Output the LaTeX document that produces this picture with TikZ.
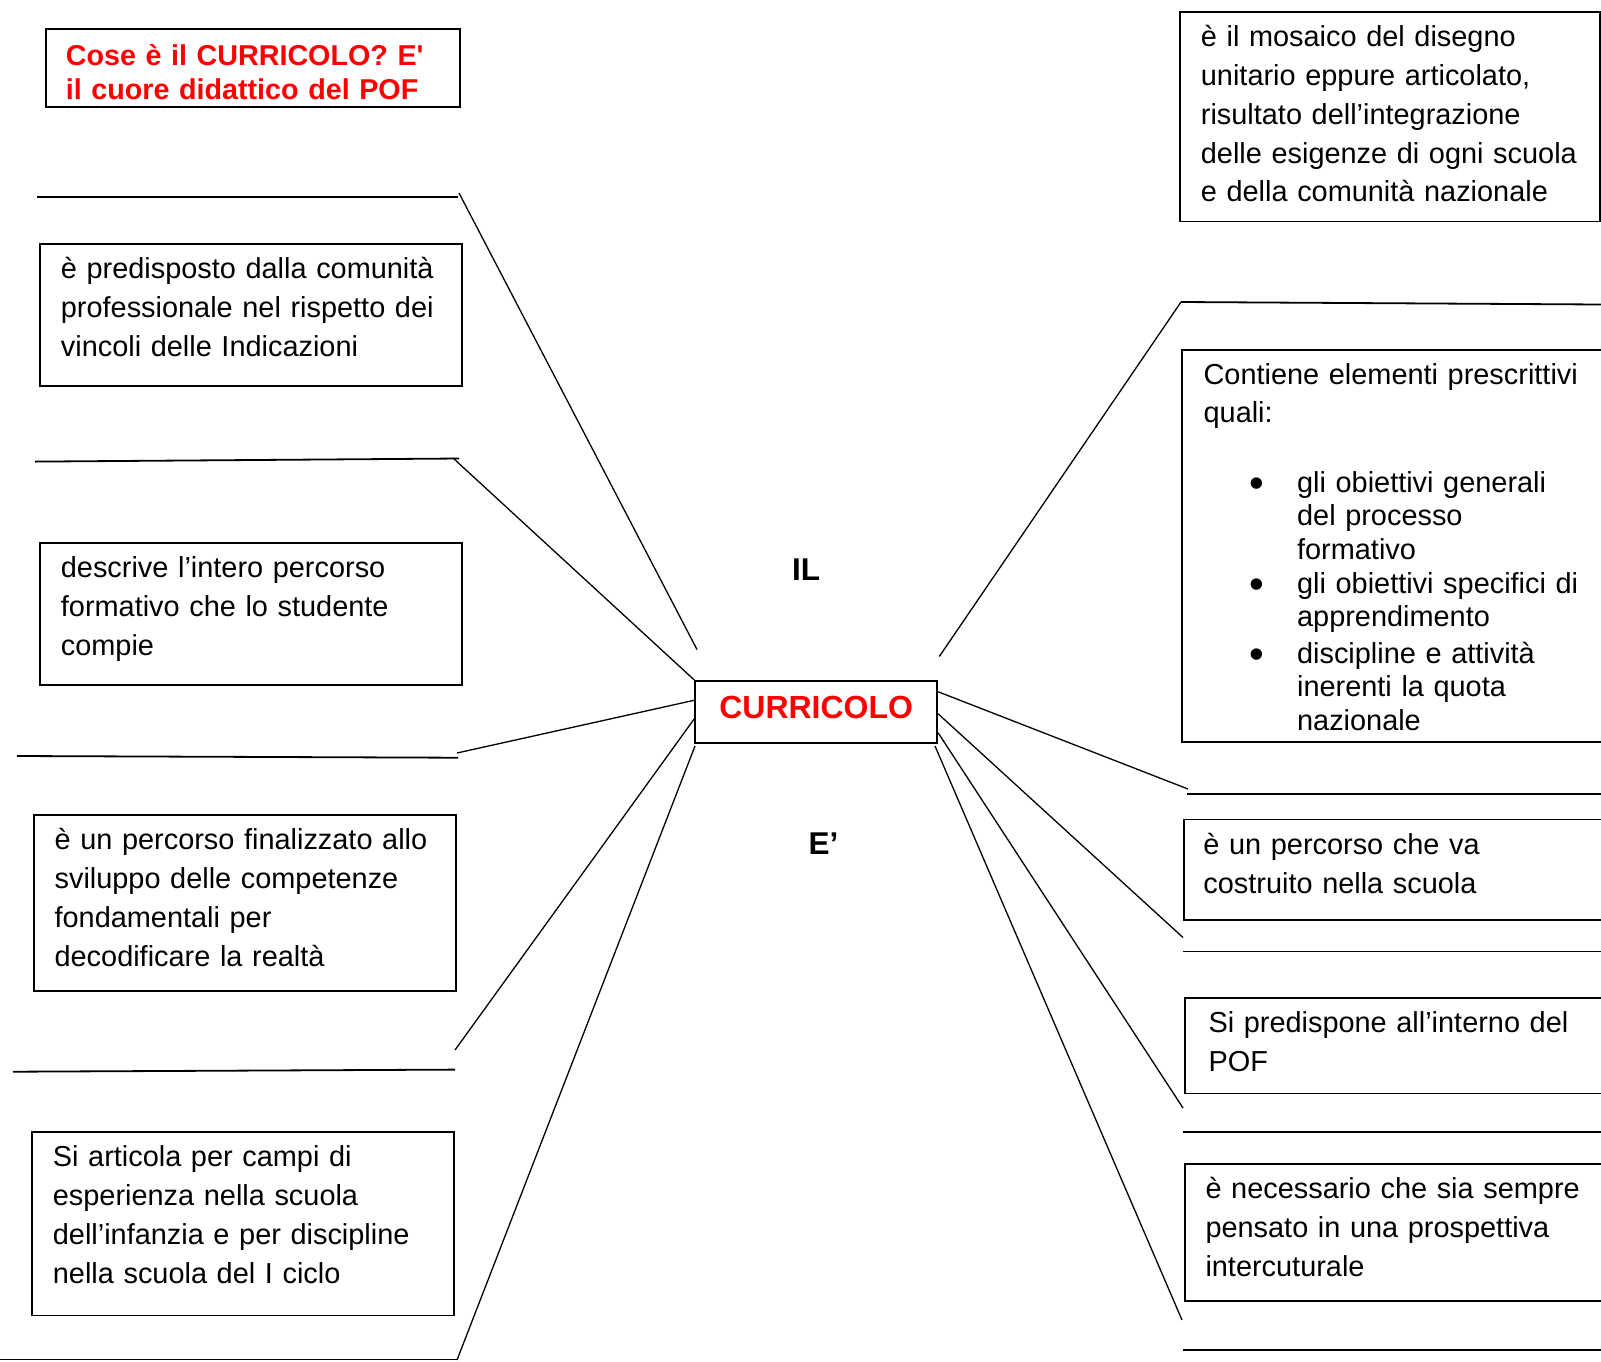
\documentclass[tikz,border=0pt]{standalone}
\usepackage{fontspec}
\setmainfont{Liberation Sans}
\usepackage{tikz}
\usetikzlibrary{positioning}
\tikzstyle{textbox} = [draw=black, line width=1.8pt, anchor=north west, align=left, inner ysep=0pt, text height=35pt, font=\fontsize{28.9pt}{38.8pt}\selectfont]
\tikzstyle{spoke} = [line width=1.3pt]
\tikzstyle{answerline} = [line width=1.8pt]
\tikzstyle{bigword} = [font=\bfseries\fontsize{31.5pt}{36pt}\selectfont, inner sep=0pt, anchor=base]
\newcommand{\listdot}{\makebox[47.5pt][l]{\raisebox{-4.8pt}{\fontsize{42pt}{42pt}\selectfont\textbullet}}}

\begin{document}
\begin{tikzpicture}[x=1pt, y=-1pt]
\useasboundingbox (0,0) rectangle (1601,1361);
\clip (0,0) rectangle (1601,1361);
% centre
\node (curr) [draw=black, line width=1.8pt, anchor=north, minimum width=242pt, inner ysep=0pt, text height=37.3pt, text depth=24.4pt, text=red, font=\bfseries\fontsize{32pt}{36pt}\selectfont] at (816.2,680) {CURRICOLO};
\node (il) [bigword] at (806,580) {IL};
\node (e) [bigword] at (823.5,854) {E’};
% left column
\node (title) [textbox, text=red, font=\bfseries\fontsize{28.7pt}{33.5pt}\selectfont, text height=37pt, text depth=41pt, inner xsep=20pt, text width=374pt] at (45,27.7) {Cose è il CURRICOLO? E\textquotesingle\\il cuore didattico del POF};
\node (predisposto) [textbox, inner xsep=21pt, text width=380pt, text depth=107pt] at (39,243) {è predisposto dalla comunità\\professionale nel rispetto dei\\vincoli delle Indicazioni};
\node (descrive) [textbox, inner xsep=21pt, text width=380pt, text depth=107pt] at (39,542) {descrive l’intero percorso\\formativo che lo studente\\compie};
\node (finalizzato) [textbox, inner xsep=21pt, text width=380.3pt, text depth=141pt] at (32.7,814) {è un percorso finalizzato allo\\sviluppo delle competenze\\fondamentali per\\decodificare la realtà};
\node (articola) [textbox, inner xsep=21pt, text width=380pt, text depth=148.6pt] at (31,1131) {Si articola per campi di\\esperienza nella scuola\\dell’infanzia e per discipline\\nella scuola del I ciclo};
% right column
\node (mosaico) [textbox, inner xsep=21pt, text width=378pt, text depth=174.8pt] at (1179,10.7) {è il mosaico del disegno\\unitario eppure articolato,\\risultato dell’integrazione\\delle esigenze di ogni scuola\\e della comunità nazionale};
\node (contiene) [textbox, font=\fontsize{28.9pt}{33.2pt}\selectfont, inner xsep=21.7pt, text width=400.6pt, text depth=357pt] at (1181,349) {Contiene elementi prescrittivi\\[4.8pt]
quali:\\[36.5pt]
\hspace*{46pt}\listdot gli obiettivi generali\\
\hspace*{93.5pt}del processo\\
\hspace*{93.5pt}formativo\\[1.5pt]
\hspace*{46pt}\listdot gli obiettivi specifici di\\
\hspace*{93.5pt}apprendimento\\[3.5pt]
\hspace*{46pt}\listdot discipline e attività\\
\hspace*{93.5pt}inerenti la quota\\
\hspace*{93.5pt}nazionale};
\node (costruito) [textbox, inner xsep=19.5pt, text width=403pt, text depth=65.4pt] at (1183,818.5) {è un percorso che va\\costruito nella scuola};
\node (pof) [textbox, inner xsep=23.6pt, text width=393.8pt, text depth=60.6pt] at (1184,997) {Si predispone all’interno del\\POF};
\node (prospettiva) [textbox, inner xsep=20.6pt, text width=399.8pt, text depth=102pt] at (1184,1163) {è necessario che sia sempre\\pensato in una prospettiva\\intercuturale};
% free ends of the spokes
\coordinate (p1) at (697,649.5);
\coordinate (q1) at (459,193);
\coordinate (q2) at (453,458);
\coordinate (q3) at (457,753);
\coordinate (q4) at (455,1050);
\coordinate (p5) at (695,746);
\coordinate (q5) at (457,1360);
\coordinate (p6) at (939.3,656.5);
\coordinate (q6) at (1181,302);
\coordinate (q7) at (1188,789);
\coordinate (q8) at (1183,937.5);
\coordinate (q9) at (1183,1108);
\coordinate (p10) at (935,746);
\coordinate (q10) at (1182,1320);
% spokes
\draw [spoke] (p1) -- (q1);
\draw [spoke] (curr.north west) -- (q2);
\draw [spoke] ([yshift=11.5pt]curr.west) -- (q3);
\draw [spoke] ([yshift=-7pt]curr.west) -- (q4);
\draw [spoke] (p5) -- (q5);
\draw [spoke] (p6) -- (q6);
\draw [spoke] ([yshift=20pt]curr.east) -- (q7);
\draw [spoke] ([yshift=-2pt]curr.east) -- (q8);
\draw [spoke] ([yshift=-21pt]curr.east) -- (q9);
\draw [spoke] (p10) -- (q10);
% blank answer lines
\draw [answerline] (37,197) -- (458,197);
\draw [answerline] (35,461.6) -- (459,458.5);
\draw [answerline] (17,756) -- (458,757.7);
\draw [answerline] (13,1071.7) -- (455,1069.6);
\draw [answerline] (0,1359.5) -- (457,1359.5);
\draw [answerline] (1181,302) -- (1601,304.5);
\draw [answerline] (1187,794) -- (1601,794);
\draw [answerline] (1183,951.5) -- (1601,951.5);
\draw [answerline] (1183,1132) -- (1601,1132);
\draw [answerline] (1183,1350) -- (1601,1350);
\end{tikzpicture}
\end{document}
